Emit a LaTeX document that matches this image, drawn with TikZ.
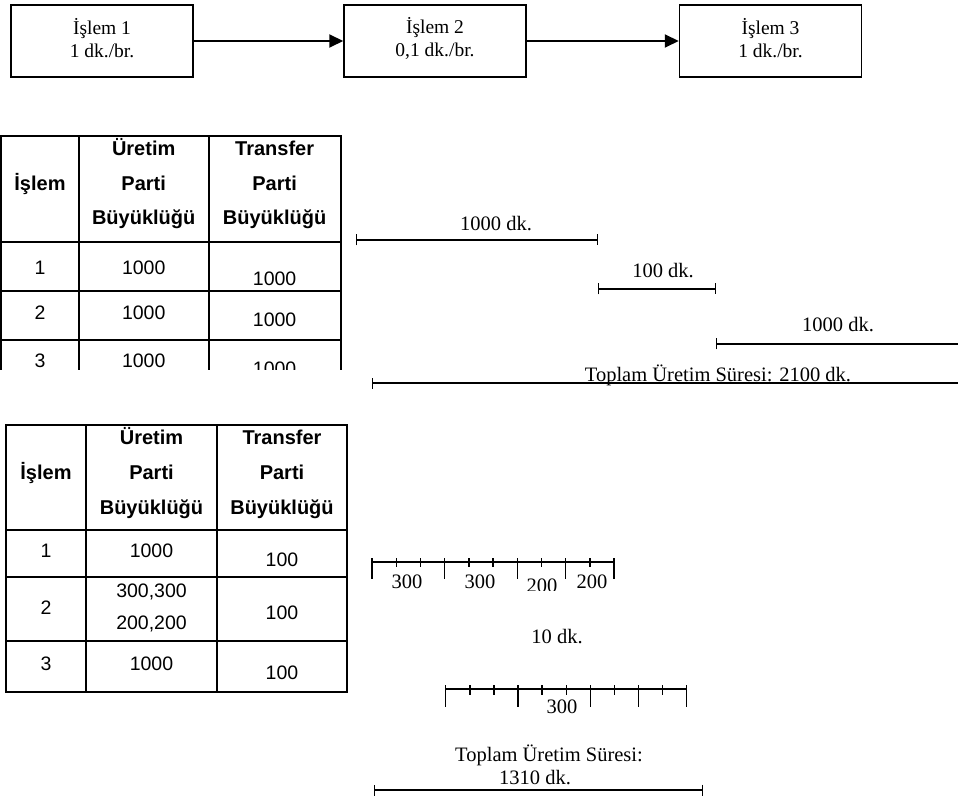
\documentclass[tikz,border=0pt]{standalone}
\usepackage{fontspec}
\setmainfont{Liberation Serif}
\setsansfont{Liberation Sans}
\usetikzlibrary{arrows.meta}

\tikzset{
  procbox/.style={draw, line width=1.5pt, minimum width=182pt, minimum height=72pt},
  boxtxt/.style={align=center, inner sep=0pt, font=\fontsize{19.5}{23}\selectfont},
  flow/.style={line width=2pt, -{Triangle[length=14pt,width=13pt]}},
  gridline/.style={line width=2pt, line cap=rect},
  hd/.style={inner sep=0pt, anchor=base, font=\sffamily\bfseries\fontsize{20}{24}\selectfont},
  cell/.style={inner sep=0pt, font=\sffamily\fontsize{19.5}{24}\selectfont},
  lbl/.style={inner sep=0pt, font=\fontsize{20.5}{24}\selectfont},
  bar/.style={line width=1.4pt},
  endtick/.tip={Bar[width=11pt,line width=1.4pt]},
  tickline/.style={line width=1.4pt}
}

\begin{document}
\begin{tikzpicture}[x=1pt,y=-1pt]
\useasboundingbox (0,0) rectangle (958,799);

% ---------- process flow ----------
\node[procbox] (b1) at (102,41)   {};
\node[procbox] (b2) at (435,41)   {};
\node[procbox] (b3) at (770.5,41) {};
\node[boxtxt] (b1t) at (102,38)   {İşlem 1\\1 dk./br.};
\node[boxtxt] (b2t) at (435,38)   {İşlem 2\\0,1 dk./br.};
\node[boxtxt] (b3t) at (770.5,38) {İşlem 3\\1 dk./br.};
\draw[flow] (b1.east) -- (b2.west);
\draw[flow] (b2.east) -- (b3.west);

% ---------- table 1 (cut off at the bottom) ----------
\begin{scope}
  \clip (-5,128) rectangle (350,369);
  \draw[gridline] (1,136.3) -- (340.7,136.3);
  \draw[gridline] (1,242.3) -- (340.7,242.3);
  \draw[gridline] (1,290.7) -- (340.7,290.7);
  \draw[gridline] (1,340) -- (340.7,340);
  \draw[gridline] (1,136.3) -- (1,380);
  \draw[gridline] (79,136.3) -- (79,380);
  \draw[gridline] (208.5,136.3) -- (208.5,380);
  \draw[gridline] (340.7,136.3) -- (340.7,380);

  \node[hd] (ta-h1) at (40,191)     {İşlem};
  \node[hd] (ta-h2a) at (143.7,156) {Üretim};
  \node[hd] (ta-h2b) at (143.7,191) {Parti};
  \node[hd] (ta-h2c) at (143.7,225) {Büyüklüğü};
  \node[hd] (ta-h3a) at (274.6,156) {Transfer};
  \node[hd] (ta-h3b) at (274.6,191) {Parti};
  \node[hd] (ta-h3c) at (274.6,225) {Büyüklüğü};

  \node[cell] (ta-11) at (40,268)    {1};
  \node[cell] (ta-12) at (143.7,268) {1000};
  \node[cell] (ta-13) at (274.6,279) {1000};
  \node[cell] (ta-21) at (40,313)    {2};
  \node[cell] (ta-22) at (143.7,313) {1000};
  \node[cell] (ta-23) at (274.6,320) {1000};
  \node[cell] (ta-31) at (40,361)    {3};
  \node[cell] (ta-32) at (143.7,361) {1000};
  \node[cell] (ta-33) at (274.6,369) {1000};
\end{scope}

% ---------- timeline 1 ----------
\coordinate (p0) at (356,240);
\coordinate (p1) at (598,240);
\coordinate (q0) at (598,289);
\coordinate (q1) at (716,289);
\coordinate (r0) at (716,344);
\coordinate (r1) at (958,344);
\coordinate (s0) at (372,383);
\coordinate (s1) at (958,383);
\draw[bar, endtick-endtick] (p0) -- (p1);
\draw[bar, endtick-endtick] (q0) -- (q1);
\draw[bar, endtick-] (r0) -- (r1);
\draw[bar, endtick-] (s0) -- (s1);
\node[lbl] (l1) at (496,224) {1000 dk.};
\node[lbl] (l2) at (663,271) {100 dk.};
\node[lbl] (l3) at (838,325) {1000 dk.};
\node[lbl] (l4) at (718,375) {Toplam Üretim Süresi: 2100 dk.};

% ---------- table 2 ----------
\draw[gridline] (5.7,425) rectangle (347,692);
\draw[gridline] (5.7,530) -- (347,530);
\draw[gridline] (5.7,577) -- (347,577);
\draw[gridline] (5.7,641) -- (347,641);
\draw[gridline] (86,425) -- (86,692);
\draw[gridline] (217,425) -- (217,692);

\node[hd] (tb-h1) at (46,479)     {İşlem};
\node[hd] (tb-h2a) at (151.5,444) {Üretim};
\node[hd] (tb-h2b) at (151.5,479) {Parti};
\node[hd] (tb-h2c) at (151.5,514) {Büyüklüğü};
\node[hd] (tb-h3a) at (282,444)   {Transfer};
\node[hd] (tb-h3b) at (282,479)   {Parti};
\node[hd] (tb-h3c) at (282,514)   {Büyüklüğü};

\node[cell] (tb-11) at (46,551)     {1};
\node[cell] (tb-12) at (151.5,551)  {1000};
\node[cell] (tb-13) at (282,560)    {100};
\node[cell] (tb-21) at (46,608)     {2};
\node[cell] (tb-22a) at (151.5,592) {300,300};
\node[cell] (tb-22b) at (151.5,624) {200,200};
\node[cell] (tb-23) at (282,613)    {100};
\node[cell] (tb-31) at (46,664)     {3};
\node[cell] (tb-32) at (151.5,664)  {1000};
\node[cell] (tb-33) at (282,673)    {100};

% ---------- timeline 2: transfer lots of 100 ----------
\coordinate (u0) at (372,562);
\coordinate (u1) at (614,562);
\draw[tickline] (u0) -- (u1);
\foreach \i in {0,3,6,8,10}
  \draw[tickline] ({372+\i*24.2},558) -- ({372+\i*24.2},579);
\foreach \i in {1,2,4,5,7,9}
  \draw[tickline] ({372+\i*24.2},558) -- ({372+\i*24.2},567);
\node[lbl] (m1) at (407,582) {300};
\node[lbl] (m2) at (480,582) {300};
\begin{scope}
  \clip (520,560) rectangle (566,590);
  \node[lbl] (m3) at (542,586) {200};
\end{scope}
\node[lbl] (m4) at (592,582) {200};

\node[lbl] (m5) at (557,637) {10 dk.};

\coordinate (v0) at (445.7,689);
\coordinate (v1) at (686.7,689);
\draw[tickline] (v0) -- (v1);
\foreach \i in {0,3,6,8,10}
  \draw[tickline] ({445.7+\i*24.1},685) -- ({445.7+\i*24.1},707);
\foreach \i in {1,2,4,5,7,9}
  \draw[tickline] ({445.7+\i*24.1},685) -- ({445.7+\i*24.1},695);
\node[lbl] (m6) at (562,707) {300};

% ---------- total ----------
\node[lbl] (t1) at (549,755) {Toplam Üretim Süresi:};
\node[lbl] (t2) at (535,778) {1310 dk.};
\coordinate (w0) at (374,790);
\coordinate (w1) at (703,790);
\draw[bar, endtick-endtick] (w0) -- (w1);
\end{tikzpicture}
\end{document}
